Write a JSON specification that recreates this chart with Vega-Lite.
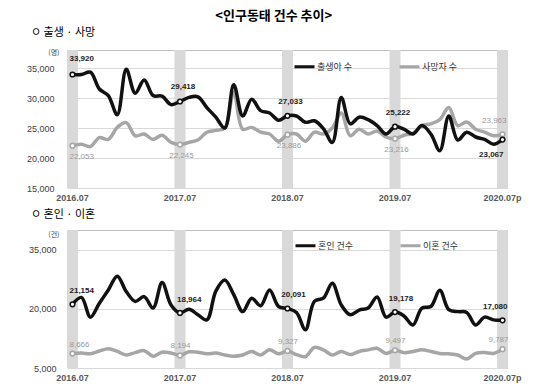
{
  "$schema": "https://vega.github.io/schema/vega-lite/v6.json",
  "background": "white",
  "padding": {"left": 25, "top": 9, "right": 0, "bottom": 0},
  "title": {"text": "<인구동태 건수 추이>", "anchor": "middle", "fontSize": 13, "fontWeight": "bold", "font": "Noto Sans CJK KR", "color": "#000000", "offset": 4},
  "spacing": 5,
  "resolve": {"scale": {"color": "independent", "stroke": "independent"}, "legend": {"color": "independent"}},
  "config": {
    "view": {"stroke": "#bfbfbf", "strokeWidth": 1},
    "axis": {"labelFont": "Liberation Sans", "labelFontSize": 9, "labelColor": "#404040", "titleFont": "Noto Sans CJK KR", "gridColor": "#d9d9d9", "gridWidth": 1},
    "title": {"font": "Noto Sans CJK KR"}
  },
  "datasets": {
    "bd": [
      {"m": "2016.07", "b": 33920, "d": 22053},
      {"m": "2016.08", "b": 33900, "d": 22300},
      {"m": "2016.09", "b": 34300, "d": 21900},
      {"m": "2016.10", "b": 31500, "d": 23400},
      {"m": "2016.11", "b": 30400, "d": 23100},
      {"m": "2016.12", "b": 27200, "d": 25100},
      {"m": "2017.01", "b": 34800, "d": 25900},
      {"m": "2017.02", "b": 30800, "d": 23700},
      {"m": "2017.03", "b": 33000, "d": 24000},
      {"m": "2017.04", "b": 30400, "d": 23100},
      {"m": "2017.05", "b": 30300, "d": 23800},
      {"m": "2017.06", "b": 28900, "d": 22600},
      {"m": "2017.07", "b": 29418, "d": 22245},
      {"m": "2017.08", "b": 30100, "d": 22600},
      {"m": "2017.09", "b": 30200, "d": 23000},
      {"m": "2017.10", "b": 28400, "d": 24300},
      {"m": "2017.11", "b": 26800, "d": 24600},
      {"m": "2017.12", "b": 25000, "d": 25000},
      {"m": "2018.01", "b": 32200, "d": 31000},
      {"m": "2018.02", "b": 27000, "d": 24800},
      {"m": "2018.03", "b": 29800, "d": 25100},
      {"m": "2018.04", "b": 27900, "d": 24300},
      {"m": "2018.05", "b": 27500, "d": 24000},
      {"m": "2018.06", "b": 26300, "d": 22800},
      {"m": "2018.07", "b": 27033, "d": 23886},
      {"m": "2018.08", "b": 27000, "d": 24000},
      {"m": "2018.09", "b": 25950, "d": 22800},
      {"m": "2018.10", "b": 26200, "d": 24300},
      {"m": "2018.11", "b": 24900, "d": 24000},
      {"m": "2018.12", "b": 22600, "d": 25000},
      {"m": "2019.01", "b": 30100, "d": 27500},
      {"m": "2019.02", "b": 25700, "d": 23700},
      {"m": "2019.03", "b": 26800, "d": 24800},
      {"m": "2019.04", "b": 26400, "d": 24000},
      {"m": "2019.05", "b": 25400, "d": 24500},
      {"m": "2019.06", "b": 24000, "d": 23500},
      {"m": "2019.07", "b": 25222, "d": 23216},
      {"m": "2019.08", "b": 24800, "d": 23800},
      {"m": "2019.09", "b": 24000, "d": 24100},
      {"m": "2019.10", "b": 25400, "d": 25400},
      {"m": "2019.11", "b": 24000, "d": 25700},
      {"m": "2019.12", "b": 21200, "d": 26400},
      {"m": "2020.01", "b": 27000, "d": 28400},
      {"m": "2020.02", "b": 23000, "d": 25400},
      {"m": "2020.03", "b": 24300, "d": 26000},
      {"m": "2020.04", "b": 23500, "d": 24800},
      {"m": "2020.05", "b": 23100, "d": 24300},
      {"m": "2020.06", "b": 22300, "d": 23700},
      {"m": "2020.07p", "b": 23067, "d": 23963}
    ],
    "md": [
      {"m": "2016.07", "mar": 21154, "div": 8666},
      {"m": "2016.08", "mar": 22900, "div": 8800},
      {"m": "2016.09", "mar": 17900, "div": 8600},
      {"m": "2016.10", "mar": 21400, "div": 9300},
      {"m": "2016.11", "mar": 24800, "div": 9900},
      {"m": "2016.12", "mar": 28300, "div": 9200},
      {"m": "2017.01", "mar": 24400, "div": 8300},
      {"m": "2017.02", "mar": 21900, "div": 8900},
      {"m": "2017.03", "mar": 23100, "div": 9400},
      {"m": "2017.04", "mar": 20200, "div": 8000},
      {"m": "2017.05", "mar": 26700, "div": 9000},
      {"m": "2017.06", "mar": 21000, "div": 8800},
      {"m": "2017.07", "mar": 18964, "div": 8194},
      {"m": "2017.08", "mar": 19900, "div": 9100},
      {"m": "2017.09", "mar": 18500, "div": 9000},
      {"m": "2017.10", "mar": 17200, "div": 8600},
      {"m": "2017.11", "mar": 24500, "div": 8800},
      {"m": "2017.12", "mar": 27300, "div": 8300},
      {"m": "2018.01", "mar": 23600, "div": 8000},
      {"m": "2018.02", "mar": 19300, "div": 8300},
      {"m": "2018.03", "mar": 22700, "div": 9200},
      {"m": "2018.04", "mar": 20800, "div": 8300},
      {"m": "2018.05", "mar": 24800, "div": 9600},
      {"m": "2018.06", "mar": 20600, "div": 8600},
      {"m": "2018.07", "mar": 20091, "div": 9327},
      {"m": "2018.08", "mar": 19100, "div": 8400},
      {"m": "2018.09", "mar": 14700, "div": 7900},
      {"m": "2018.10", "mar": 21900, "div": 10200},
      {"m": "2018.11", "mar": 22700, "div": 9600},
      {"m": "2018.12", "mar": 26500, "div": 8300},
      {"m": "2019.01", "mar": 21000, "div": 9200},
      {"m": "2019.02", "mar": 18500, "div": 8400},
      {"m": "2019.03", "mar": 19700, "div": 9200},
      {"m": "2019.04", "mar": 20200, "div": 9600},
      {"m": "2019.05", "mar": 23000, "div": 10000},
      {"m": "2019.06", "mar": 17900, "div": 8700},
      {"m": "2019.07", "mar": 19178, "div": 9497},
      {"m": "2019.08", "mar": 18200, "div": 8900},
      {"m": "2019.09", "mar": 15900, "div": 9200},
      {"m": "2019.10", "mar": 20200, "div": 9600},
      {"m": "2019.11", "mar": 20600, "div": 9200},
      {"m": "2019.12", "mar": 24700, "div": 8700},
      {"m": "2020.01", "mar": 19800, "div": 8600},
      {"m": "2020.02", "mar": 19300, "div": 8300},
      {"m": "2020.03", "mar": 19100, "div": 7300},
      {"m": "2020.04", "mar": 15900, "div": 8700},
      {"m": "2020.05", "mar": 17900, "div": 8900},
      {"m": "2020.06", "mar": 17200, "div": 8700},
      {"m": "2020.07p", "mar": 17080, "div": 9787}
    ]
  },
  "vconcat": [
    {
      "width": 439,
      "height": 138,
      "title": {"text": "ㅇ 출생 · 사망", "anchor": "start", "frame": "group", "dx": -37, "fontSize": 11, "fontWeight": "normal", "color": "#000000", "offset": 10},
      "data": {"name": "bd"},
      "transform": [{"fold": ["d", "b"], "as": ["s", "v"]}],
      "encoding": {
        "x": {"field": "m", "type": "ordinal", "sort": null,
              "scale": {"type": "band", "paddingInner": 0, "paddingOuter": 0,
                        "domain": ["2016.07","2016.08","2016.09","2016.10","2016.11","2016.12","2017.01","2017.02","2017.03","2017.04","2017.05","2017.06","2017.07","2017.08","2017.09","2017.10","2017.11","2017.12","2018.01","2018.02","2018.03","2018.04","2018.05","2018.06","2018.07","2018.08","2018.09","2018.10","2018.11","2018.12","2019.01","2019.02","2019.03","2019.04","2019.05","2019.06","2019.07","2019.08","2019.09","2019.10","2019.11","2019.12","2020.01","2020.02","2020.03","2020.04","2020.05","2020.06","2020.07p"]},
              "axis": {"values": ["2016.07", "2017.07", "2018.07", "2019.07", "2020.07p"], "title": null, "labelAngle": 0, "ticks": false, "domain": false, "labelPadding": 5, "labelFontWeight": "bold", "labelColor": "#595959", "grid": false}},
        "y": {"field": "v", "type": "quantitative", "scale": {"domain": [15000, 38000], "nice": false, "zero": false},
              "axis": {"title": "(명)", "titleAngle": 0, "titleAlign": "right", "titleBaseline": "middle", "titleX": -9, "titleY": 2, "titleFontSize": 7, "titleFontWeight": "normal", "titleColor": "#404040",
                       "values": [15000, 20000, 25000, 30000, 35000], "format": ",.0f", "ticks": false, "domain": false, "labelPadding": 14}}
      },
      "layer": [
        {
          "transform": [{"filter": "datum.s == 'b' && indexof(['2016.07','2017.07','2018.07','2019.07','2020.07p'], datum.m) >= 0"}],
          "mark": {"type": "bar", "width": 11, "color": "#d9d9d9"},
          "encoding": {"y": {"datum": 38000, "type": "quantitative"}, "y2": {"datum": 15000}}
        },
        {
          "mark": {"type": "line", "interpolate": "catmull-rom", "strokeWidth": 3.5},
          "encoding": {
            "color": {"field": "s", "type": "nominal", "scale": {"domain": ["b", "d"], "range": ["#111111", "#a6a6a6"]},
                      "legend": {"orient": "none", "legendX": 225, "legendY": 5, "direction": "horizontal", "title": null, "symbolType": "stroke", "symbolSize": 400, "symbolStrokeWidth": 3, "labelFontSize": 9, "labelFont": "Noto Sans CJK KR", "labelColor": "#333333", "labelExpr": "datum.label == 'b' ? '출생아 수' : '사망자 수'", "columnPadding": 40, "labelOffset": 1}}
          }
        },
        {
          "transform": [{"filter": "indexof(['2016.07','2017.07','2018.07','2019.07','2020.07p'], datum.m) >= 0"}],
          "mark": {"type": "point", "filled": false, "fill": "white", "size": 22, "strokeWidth": 1.5, "opacity": 1},
          "encoding": {
            "stroke": {"field": "s", "type": "nominal", "scale": {"domain": ["b", "d"], "range": ["#111111", "#a6a6a6"]}, "legend": null}
          }
        },
        {
          "transform": [{"filter": "datum.s == 'b' && datum.m == '2016.07'"}],
          "mark": {"type": "text", "align": "left", "dx": -3, "dy": -15, "fontSize": 8, "fontWeight": "bold", "fill": "#222222", "font": "Liberation Sans"},
          "encoding": {"text": {"field": "v", "type": "quantitative", "format": ","}}
        },
        {
          "transform": [{"filter": "datum.s == 'b' && indexof(['2017.07','2018.07','2019.07'], datum.m) >= 0"}],
          "mark": {"type": "text", "align": "center", "dx": 3, "dy": -14, "fontSize": 8, "fontWeight": "bold", "fill": "#222222", "font": "Liberation Sans"},
          "encoding": {"text": {"field": "v", "type": "quantitative", "format": ","}}
        },
        {
          "transform": [{"filter": "datum.s == 'b' && datum.m == '2020.07p'"}],
          "mark": {"type": "text", "align": "right", "dx": 1, "dy": 15, "fontSize": 8, "fontWeight": "bold", "fill": "#222222", "font": "Liberation Sans"},
          "encoding": {"text": {"field": "v", "type": "quantitative", "format": ","}}
        },
        {
          "transform": [{"filter": "datum.s == 'd' && datum.m == '2016.07'"}],
          "mark": {"type": "text", "align": "left", "dx": -3, "dy": 11, "fontSize": 8, "fill": "#9a9a9a", "font": "Liberation Sans"},
          "encoding": {"text": {"field": "v", "type": "quantitative", "format": ","}}
        },
        {
          "transform": [{"filter": "datum.s == 'd' && indexof(['2017.07','2018.07','2019.07'], datum.m) >= 0"}],
          "mark": {"type": "text", "align": "center", "dx": 1.5, "dy": 11, "fontSize": 8, "fill": "#9a9a9a", "font": "Liberation Sans"},
          "encoding": {"text": {"field": "v", "type": "quantitative", "format": ","}}
        },
        {
          "transform": [{"filter": "datum.s == 'd' && datum.m == '2020.07p'"}],
          "mark": {"type": "text", "align": "right", "dx": 4, "dy": -13, "fontSize": 8, "fill": "#9a9a9a", "font": "Liberation Sans"},
          "encoding": {"text": {"field": "v", "type": "quantitative", "format": ","}}
        }
      ]
    },
    {
      "width": 439,
      "height": 138,
      "title": {"text": "ㅇ 혼인 · 이혼", "anchor": "start", "frame": "group", "dx": -37, "fontSize": 11, "fontWeight": "normal", "color": "#000000", "offset": 10},
      "data": {"name": "md"},
      "transform": [{"fold": ["div", "mar"], "as": ["s", "v"]}],
      "encoding": {
        "x": {"field": "m", "type": "ordinal", "sort": null,
              "scale": {"type": "band", "paddingInner": 0, "paddingOuter": 0,
                        "domain": ["2016.07","2016.08","2016.09","2016.10","2016.11","2016.12","2017.01","2017.02","2017.03","2017.04","2017.05","2017.06","2017.07","2017.08","2017.09","2017.10","2017.11","2017.12","2018.01","2018.02","2018.03","2018.04","2018.05","2018.06","2018.07","2018.08","2018.09","2018.10","2018.11","2018.12","2019.01","2019.02","2019.03","2019.04","2019.05","2019.06","2019.07","2019.08","2019.09","2019.10","2019.11","2019.12","2020.01","2020.02","2020.03","2020.04","2020.05","2020.06","2020.07p"]},
              "axis": {"values": ["2016.07", "2017.07", "2018.07", "2019.07", "2020.07p"], "title": null, "labelAngle": 0, "ticks": false, "domain": false, "labelPadding": 5, "labelFontWeight": "bold", "labelColor": "#595959", "grid": false}},
        "y": {"field": "v", "type": "quantitative", "scale": {"domain": [5000, 40000], "nice": false, "zero": false},
              "axis": {"title": "(건)", "titleAngle": 0, "titleAlign": "right", "titleBaseline": "middle", "titleX": -9, "titleY": 4, "titleFontSize": 7, "titleFontWeight": "normal", "titleColor": "#404040",
                       "values": [5000, 20000, 35000], "format": ",.0f", "ticks": false, "domain": false, "labelPadding": 12}}
      },
      "layer": [
        {
          "transform": [{"filter": "datum.s == 'mar' && indexof(['2016.07','2017.07','2018.07','2019.07','2020.07p'], datum.m) >= 0"}],
          "mark": {"type": "bar", "width": 11, "color": "#d9d9d9"},
          "encoding": {"y": {"datum": 40000, "type": "quantitative"}, "y2": {"datum": 5000}}
        },
        {
          "mark": {"type": "line", "interpolate": "catmull-rom", "strokeWidth": 3.5},
          "encoding": {
            "color": {"field": "s", "type": "nominal", "scale": {"domain": ["mar", "div"], "range": ["#111111", "#a6a6a6"]},
                      "legend": {"orient": "none", "legendX": 226, "legendY": 4, "direction": "horizontal", "title": null, "symbolType": "stroke", "symbolSize": 400, "symbolStrokeWidth": 3, "labelFontSize": 9, "labelFont": "Noto Sans CJK KR", "labelColor": "#333333", "labelExpr": "datum.label == 'mar' ? '혼인 건수' : '이혼 건수'", "columnPadding": 40, "labelOffset": 1}}
          }
        },
        {
          "transform": [{"filter": "indexof(['2016.07','2017.07','2018.07','2019.07','2020.07p'], datum.m) >= 0"}],
          "mark": {"type": "point", "filled": false, "fill": "white", "size": 22, "strokeWidth": 1.5, "opacity": 1},
          "encoding": {
            "stroke": {"field": "s", "type": "nominal", "scale": {"domain": ["mar", "div"], "range": ["#111111", "#a6a6a6"]}, "legend": null}
          }
        },
        {
          "transform": [{"filter": "datum.s == 'mar' && indexof(['2016.07','2017.07'], datum.m) >= 0"}],
          "mark": {"type": "text", "align": "left", "dx": -3, "dy": -13, "fontSize": 8, "fontWeight": "bold", "fill": "#222222", "font": "Liberation Sans"},
          "encoding": {"text": {"field": "v", "type": "quantitative", "format": ","}}
        },
        {
          "transform": [{"filter": "datum.s == 'mar' && indexof(['2018.07','2019.07'], datum.m) >= 0"}],
          "mark": {"type": "text", "align": "center", "dx": 6, "dy": -13, "fontSize": 8, "fontWeight": "bold", "fill": "#222222", "font": "Liberation Sans"},
          "encoding": {"text": {"field": "v", "type": "quantitative", "format": ","}}
        },
        {
          "transform": [{"filter": "datum.s == 'mar' && datum.m == '2020.07p'"}],
          "mark": {"type": "text", "align": "right", "dx": 5, "dy": -13, "fontSize": 8, "fontWeight": "bold", "fill": "#222222", "font": "Liberation Sans"},
          "encoding": {"text": {"field": "v", "type": "quantitative", "format": ","}}
        },
        {
          "transform": [{"filter": "datum.s == 'div' && datum.m == '2016.07'"}],
          "mark": {"type": "text", "align": "left", "dx": -3, "dy": -9, "fontSize": 8, "fill": "#9a9a9a", "font": "Liberation Sans"},
          "encoding": {"text": {"field": "v", "type": "quantitative", "format": ","}}
        },
        {
          "transform": [{"filter": "datum.s == 'div' && indexof(['2017.07','2018.07','2019.07'], datum.m) >= 0"}],
          "mark": {"type": "text", "align": "center", "dx": 0.5, "dy": -9, "fontSize": 8, "fill": "#9a9a9a", "font": "Liberation Sans"},
          "encoding": {"text": {"field": "v", "type": "quantitative", "format": ","}}
        },
        {
          "transform": [{"filter": "datum.s == 'div' && datum.m == '2020.07p'"}],
          "mark": {"type": "text", "align": "right", "dx": 6, "dy": -9, "fontSize": 8, "fill": "#9a9a9a", "font": "Liberation Sans"},
          "encoding": {"text": {"field": "v", "type": "quantitative", "format": ","}}
        }
      ]
    }
  ]
}
